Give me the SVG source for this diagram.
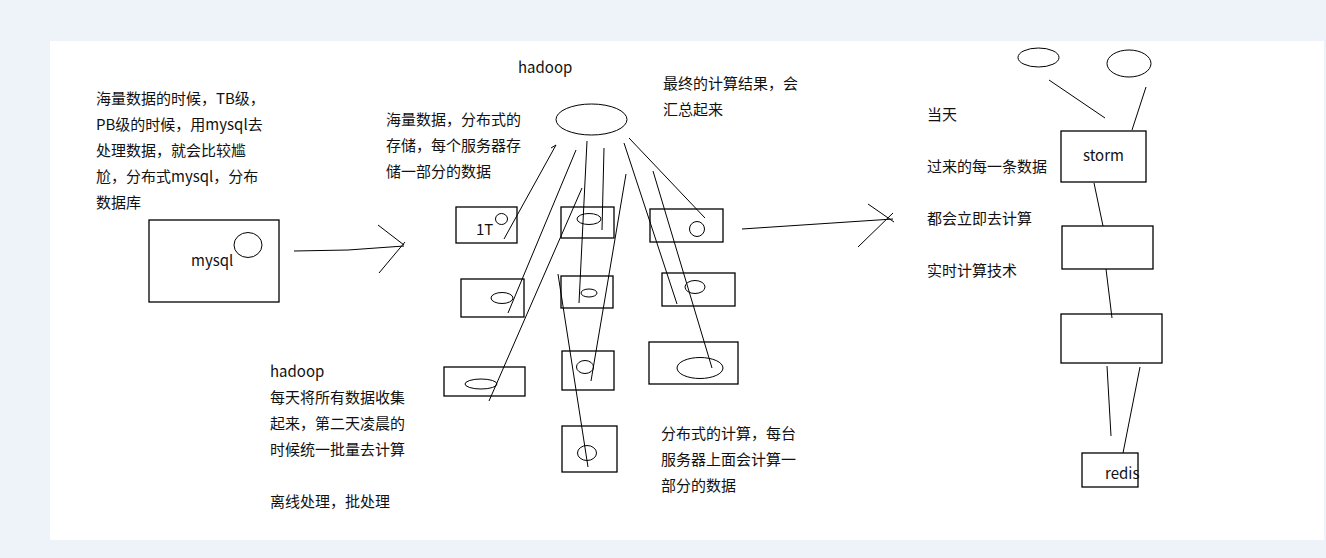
<svg xmlns="http://www.w3.org/2000/svg" width="1326" height="558" viewBox="0 0 1326 558">
<style>
.t{font-family:"Noto Sans CJK SC","Microsoft YaHei","Noto Sans",sans-serif;font-size:15px;fill:#111}
.b{fill:none;stroke:#000;stroke-width:1.3}
.e{fill:none;stroke:#000;stroke-width:1}
.l{fill:none;stroke:#000;stroke-width:1}
</style>
<rect x="0" y="0" width="1326" height="558" fill="#eef2f9"/>
<rect x="50" y="41" width="1274" height="499" fill="#ffffff"/>

<g id="text-left">
<text class="t" x="96" y="104">海量数据的时候，TB级，</text>
<text class="t" x="96" y="130">PB级的时候，用mysql去</text>
<text class="t" x="96" y="156">处理数据，就会比较尴</text>
<text class="t" x="96" y="182">尬，分布式mysql，分布</text>
<text class="t" x="96" y="208">数据库</text>
</g>

<g id="node-mysql">
<rect class="b" x="149" y="220" width="130" height="82"/>
<ellipse class="e" cx="248" cy="245" rx="14" ry="12.5"/>
<text class="t" x="191" y="266">mysql</text>
</g>

<g id="text-hadoop-storage">
<text class="t" x="386" y="125">海量数据，分布式的</text>
<text class="t" x="386" y="151">存储，每个服务器存</text>
<text class="t" x="386" y="177">储一部分的数据</text>
</g>

<g id="node-hadoop">
<text class="t" x="518" y="73">hadoop</text>
<ellipse class="e" cx="591.5" cy="119.5" rx="35.5" ry="15.5"/>
</g>

<g id="text-result">
<text class="t" x="663" y="89">最终的计算结果，会</text>
<text class="t" x="663" y="115">汇总起来</text>
</g>

<g id="node-1t">
<rect class="b" x="456" y="207" width="61" height="36"/>
<ellipse class="e" cx="501.5" cy="219" rx="6" ry="5.5"/>
<text class="t" x="476" y="235">1T</text>
</g>
<g id="node-s1">
<rect class="b" x="561" y="207" width="53" height="31"/>
<ellipse class="e" cx="589" cy="219" rx="12" ry="5.5"/>
</g>
<g id="node-s2">
<rect class="b" x="650" y="209" width="73" height="33"/>
<ellipse class="e" cx="697" cy="229" rx="7.5" ry="7.5"/>
</g>
<g id="node-s3">
<rect class="b" x="461" y="279" width="63" height="38"/>
<ellipse class="e" cx="502" cy="298" rx="11" ry="5.5"/>
</g>
<g id="node-s4">
<rect class="b" x="561" y="276" width="52" height="32"/>
<ellipse class="e" cx="589" cy="293" rx="8" ry="4"/>
</g>
<g id="node-s5">
<rect class="b" x="662" y="273" width="73" height="33"/>
<ellipse class="e" cx="695" cy="287" rx="10" ry="6.5"/>
</g>
<g id="node-s6">
<rect class="b" x="444" y="367" width="81" height="29"/>
<ellipse class="e" cx="481" cy="384" rx="16" ry="5"/>
</g>
<g id="node-s7">
<rect class="b" x="562" y="351" width="52" height="39"/>
<ellipse class="e" cx="585" cy="367" rx="8.5" ry="6.5"/>
</g>
<g id="node-s8">
<rect class="b" x="649" y="342" width="89" height="42"/>
<ellipse class="e" cx="700" cy="368" rx="23" ry="10.5"/>
</g>
<g id="node-s9">
<rect class="b" x="562" y="426" width="55" height="46"/>
<ellipse class="e" cx="587" cy="453" rx="9.5" ry="7.5"/>
</g>

<g id="text-batch">
<text class="t" x="270" y="377">hadoop</text>
<text class="t" x="270" y="403">每天将所有数据收集</text>
<text class="t" x="270" y="429">起来，第二天凌晨的</text>
<text class="t" x="270" y="455">时候统一批量去计算</text>
<text class="t" x="270" y="507">离线处理，批处理</text>
</g>

<g id="text-distcalc">
<text class="t" x="661" y="439">分布式的计算，每台</text>
<text class="t" x="661" y="465">服务器上面会计算一</text>
<text class="t" x="661" y="491">部分的数据</text>
</g>

<g id="text-realtime">
<text class="t" x="927" y="120">当天</text>
<text class="t" x="927" y="172">过来的每一条数据</text>
<text class="t" x="927" y="224">都会立即去计算</text>
<text class="t" x="927" y="276">实时计算技术</text>
</g>

<g id="node-spout1"><ellipse class="e" cx="1038.5" cy="57.5" rx="20.5" ry="9.5"/></g>
<g id="node-spout2"><ellipse class="e" cx="1129" cy="63.5" rx="22" ry="13.5"/></g>
<g id="node-storm">
<rect class="b" x="1061" y="131" width="85" height="51"/>
<text class="t" x="1083" y="161">storm</text>
</g>
<g id="node-bolt1"><rect class="b" x="1062" y="226" width="91" height="43"/></g>
<g id="node-bolt2"><rect class="b" x="1061" y="314" width="101" height="49"/></g>
<g id="node-redis">
<rect class="b" x="1082" y="453" width="56" height="34"/>
<text class="t" x="1105" y="479">redis</text>
</g>

<g id="connectors">
<polyline class="l" points="294,251 348,250 404,246"/>
<polyline class="l" points="378,225 404,245"/>
<polyline class="l" points="379,273 405,242"/>

<polyline class="l" points="551,148 556,145 504,239"/>
<line class="l" x1="576" y1="150" x2="508" y2="313"/>
<line class="l" x1="582" y1="188" x2="489" y2="401"/>
<line class="l" x1="587" y1="141" x2="579" y2="303"/>
<line class="l" x1="604" y1="148" x2="602" y2="230"/>
<line class="l" x1="626" y1="174" x2="591" y2="381"/>
<line class="l" x1="624" y1="143" x2="677" y2="304"/>
<line class="l" x1="629" y1="138" x2="705" y2="218"/>
<line class="l" x1="653" y1="171" x2="712" y2="368"/>
<line class="l" x1="558" y1="274" x2="588" y2="467"/>

<line class="l" x1="742" y1="229" x2="893" y2="219"/>
<line class="l" x1="868" y1="204" x2="894" y2="222"/>
<line class="l" x1="858" y1="247" x2="893" y2="213"/>

<line class="l" x1="1049" y1="80" x2="1105" y2="118"/>
<line class="l" x1="1146" y1="87" x2="1132" y2="130"/>
<line class="l" x1="1094" y1="183" x2="1103" y2="226"/>
<line class="l" x1="1106" y1="269" x2="1112" y2="318"/>
<line class="l" x1="1107" y1="366" x2="1111" y2="436"/>
<line class="l" x1="1140" y1="367" x2="1123" y2="453"/>
</g>
</svg>
